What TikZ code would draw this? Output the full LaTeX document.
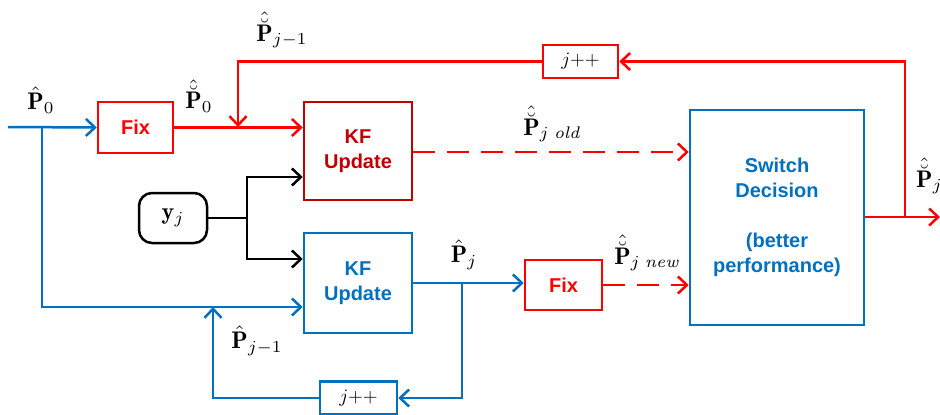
\documentclass[tikz,border=0pt]{standalone}
\usepackage{graphicx}
\usepackage{fontspec}
\setsansfont{Liberation Sans}
\usetikzlibrary{arrows.meta}
\definecolor{myred}{HTML}{FF0000}
\definecolor{dred}{HTML}{C00000}
\definecolor{myblue}{HTML}{0070C0}
\newcommand{\hb}{\hat{\breve{\mathbf{P}}}}
\newcommand{\hp}{\hat{\mathbf{P}}}
\newcommand{\mylabm}[1]{\scalebox{2.4}{$#1$}}
\begin{document}
\begin{tikzpicture}[x=1pt,y=-1pt,
  box/.style={draw, line width=2.5pt, inner sep=0pt, align=center,
    font=\sffamily\bfseries\fontsize{20}{25}\selectfont},
  redbox/.style={box, draw=myred, text=myred},
  dredbox/.style={box, draw=dred, text=dred},
  bluebox/.style={box, draw=myblue, text=myblue},
  incbox/.style={draw, line width=2.5pt, inner sep=0pt},
  lab/.style={inner sep=0pt},
  ln/.style={line width=2.5pt},
  arr/.style={ln, -{Straight Barb[length=9pt,width=17pt]}},
  dsh/.style={dash pattern=on 22pt off 12pt}
]
\useasboundingbox (0,0) rectangle (940,415);

% nodes
\node[redbox, minimum width=75pt, minimum height=51pt] (fix1) at (135.5,127.5) {Fix};
\node[dredbox, minimum width=108pt, minimum height=98pt] (kfr) at (358,151) {KF\\Update};
\node[incbox, draw=myred, minimum width=75pt, minimum height=33pt] (jr) at (580.5,61.5) {\scalebox{1.9}{$j{+}{+}$}};
\node[bluebox, minimum width=174pt, minimum height=215pt] (sw) at (777,217.5) {Switch\\Decision\\[25pt](better\\performance)};
\node[draw, line width=2.5pt, rounded corners=13pt, minimum width=68pt, minimum height=50pt, inner sep=0pt] (y) at (173,218) {\mylabm{\mathbf{y}_j}};
\node[bluebox, minimum width=108pt, minimum height=100pt] (kfb) at (358,283) {KF\\Update};
\node[redbox, minimum width=77pt, minimum height=50pt] (fix2) at (563.5,285) {Fix};
\node[incbox, draw=myblue, minimum width=77pt, minimum height=33pt] (jb) at (358.5,398) {\scalebox{1.9}{$j{+}{+}$}};

% coordinates
\coordinate (in) at (8,127);
\coordinate (b0) at (42,127);
\coordinate (b0d) at (42,307);
\coordinate (fbr) at (238,61.5);
\coordinate (fbrd) at (238,127);
\coordinate (outr) at (905,217);
\coordinate (outrt) at (905,61.5);
\coordinate (out) at (940,217);
\coordinate (yb) at (247,218);
\coordinate (yt) at (247,177);
\coordinate (ybt) at (247,259);
\coordinate (bb) at (462,283);
\coordinate (bbd) at (462,398);
\coordinate (bl) at (213,398);
\coordinate (blu) at (213,307);

% blue input
\draw[arr, myblue] (in) -- (fix1.west);
\draw[arr, myblue] (b0) -- (b0d) -- (b0d -| kfb.west);
% red path
\draw[arr, myred] (fix1.east) -- (fix1.east -| kfr.west);
\draw[arr, myred] (jr.west) -- (fbr) -- (fbrd);
\draw[arr, myred] (sw.east |- out) -- (out);
\draw[arr, myred] (outr) -- (outrt) -- (jr.east);
\draw[arr, myred, dsh] (kfr.east |- 0,152) -- (sw.west |- 0,152);
\draw[arr, myred, dsh] (fix2.east) -- (fix2.east -| sw.west);
% y
\draw[ln] (y.east) -- (yb);
\draw[arr] (yb) |- (yt -| kfr.west);
\draw[arr] (yb) |- (ybt -| kfb.west);
% blue lower
\draw[arr, myblue] (kfb.east) -- (kfb.east -| fix2.west);
\draw[arr, myblue] (bb) -- (bbd) -- (jb.east);
\draw[arr, myblue] (jb.west) -- (bl) -- (blu);

% labels
\node[lab] (l1) at (41,100) {\mylabm{\hp_0}};
\node[lab] (l2) at (199,96) {\mylabm{\hb_0}};
\node[lab] (l3) at (282,30) {\mylabm{\hb_{j-1}}};
\node[lab] (l4) at (552,124) {\mylabm{\hb_{j\;\mathit{old}}}};
\node[lab] (l5) at (464,255) {\mylabm{\hp_j}};
\node[lab] (l6) at (647,253) {\mylabm{\hb_{j\;\mathit{new}}}};
\node[lab] (l7) at (257,341) {\mylabm{\hp_{j-1}}};
\node[lab, anchor=west] (l8) at (916,176) {\mylabm{\hb_j}};
\end{tikzpicture}
\end{document}
